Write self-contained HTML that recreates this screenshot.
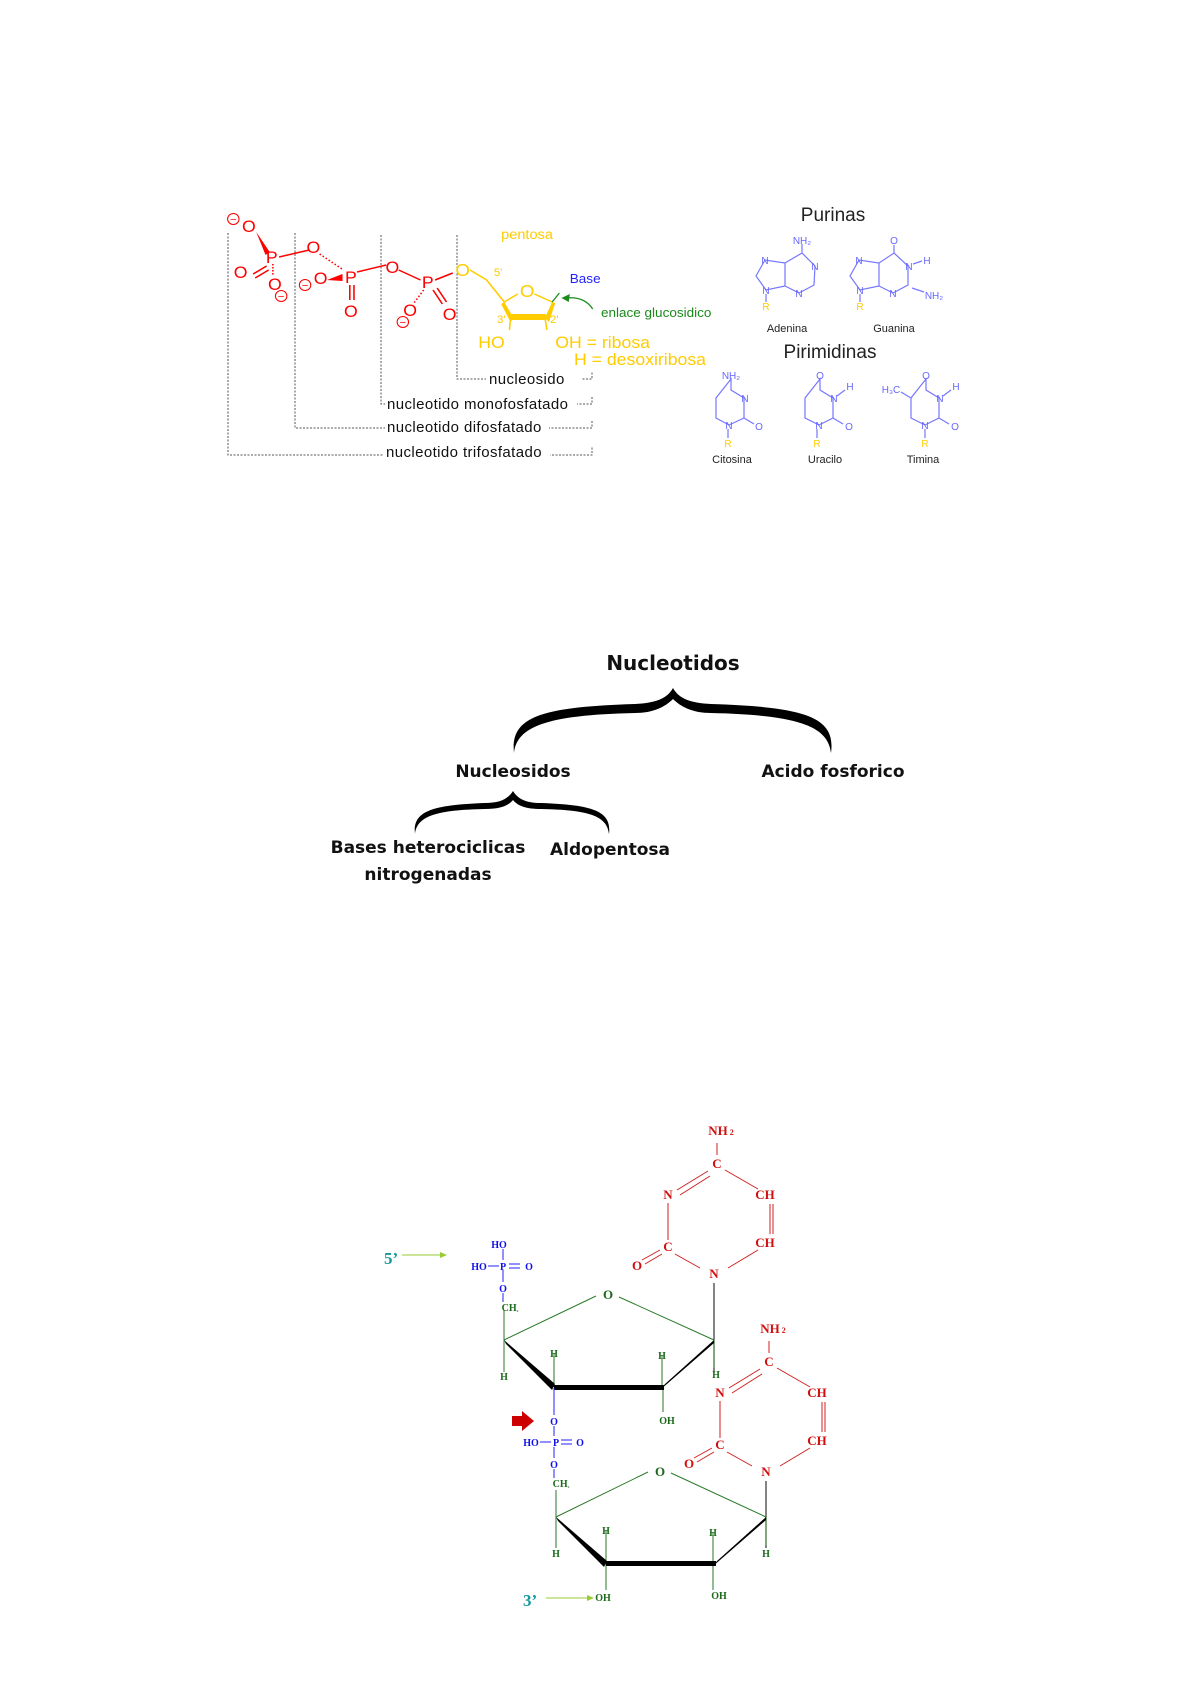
<!DOCTYPE html>
<html><head><meta charset="utf-8"><style>
html,body{margin:0;padding:0;background:#fff}
svg{display:block}
.s{font-family:"Liberation Sans",sans-serif}
.b{font-family:"DejaVu Sans","Liberation Sans",sans-serif;font-weight:bold}
.m{font-family:"Liberation Serif",serif;font-weight:bold}
</style></head><body>
<svg width="1191" height="1684" viewBox="0 0 1191 1684" xmlns="http://www.w3.org/2000/svg">
<!-- ===== TOP DIAGRAM ===== -->
<g transform="translate(-3,-3)">
<g fill="none" stroke="#555" stroke-width="1" stroke-dasharray="2,1.5">
<path d="M231 236 V458 H595 V449"/>
<path d="M298 236 V431 H595 V423"/>
<path d="M384 238 V407 H595 V399"/>
<path d="M460 238 V382 H595 V374"/>
</g>
<g class="s" font-size="15" fill="#111" text-anchor="start" letter-spacing="0.4">
<rect x="489" y="371" width="96" height="16" fill="#fff"/>
<text x="492" y="387">nucleosido</text>
<rect x="388" y="397" width="192" height="16" fill="#fff"/>
<text x="390" y="412">nucleotido monofosfatado</text>
<rect x="388" y="420" width="164" height="16" fill="#fff"/>
<text x="390" y="435">nucleotido difosfatado</text>
<rect x="387" y="446" width="166" height="16" fill="#fff"/>
<text x="389" y="460">nucleotido trifosfatado</text>
</g>
</g>
<g transform="matrix(1.04 0 0 1 -9 0)">
<g stroke="#f00" stroke-width="1.5" fill="none">
<path d="M277 257 L306 250"/><path d="M352 272 L380 265"/><path d="M392 270 L413 280"/><path d="M427 280 L444 273"/>
<path d="M252 274 L265 266 M254 278 L267 270"/>
<path d="M345 285 V300 M349 285 V300"/>
<path d="M425 290 L434 304 M429 288 L438 302"/>
<path d="M271 264 V275" stroke-dasharray="1.5,1.5"/>
<path d="M316 254 L339 270" stroke-dasharray="1.5,2"/>
<path d="M416 290 L406 304" stroke-dasharray="1.5,2"/>
</g>
<polygon points="255,232 268,252 264,255" fill="#f00"/>
<polygon points="323,280 338,274 338,281" fill="#f00"/>
<g class="s" font-size="17" fill="#f00" text-anchor="middle">
<text x="270" y="263">P</text><text x="248" y="232">O</text><text x="240" y="278">O</text><text x="273" y="290">O</text>
<text x="310" y="253">O</text><text x="346" y="283">P</text><text x="317" y="284">O</text><text x="346" y="317">O</text>
<text x="386" y="273">O</text><text x="420" y="288">P</text><text x="403" y="316">O</text><text x="441" y="320">O</text>
</g>
<g class="s" font-size="11" fill="#f00" text-anchor="middle">
<circle cx="233" cy="219" r="5.5" fill="#fff" stroke="#f00"/><text x="233" y="223">−</text>
<circle cx="279" cy="296" r="5.5" fill="#fff" stroke="#f00"/><text x="279" y="300">−</text>
<circle cx="302" cy="285" r="5.5" fill="#fff" stroke="#f00"/><text x="302" y="289">−</text>
<circle cx="396" cy="322" r="5.5" fill="#fff" stroke="#f00"/><text x="396" y="326">−</text>
</g>
</g>
<g transform="matrix(1.04 0 0 1 -23 0)">
<g stroke="#fc0" stroke-width="1.5" fill="none">
<path d="M474 270 L490 280 L507 302"/>
<path d="M507 302 L520 294 M536 294 L553 302"/>
<path d="M513 317 L512 330 M546 317 L548 330"/>
</g>
<polygon points="507,302 516,318 513,322 504,304" fill="#fc0"/>
<polygon points="553,302 546,318 550,322 556,303" fill="#fc0"/>
<rect x="514" y="314" width="33" height="6" fill="#fc0"/>
<path d="M553 302 L560 293" stroke="#1a8a1a" stroke-width="1.2"/>
<path d="M592 309 Q584 296 566 298" stroke="#1a8a1a" stroke-width="1.3" fill="none"/>
<polygon points="562,298 570,294 569,302" fill="#1a8a1a"/>
<g class="s" fill="#fc0">
<text x="467" y="276" font-size="18" text-anchor="middle">O</text>
<text x="529" y="297" font-size="18" text-anchor="middle">O</text>
<text x="497" y="276" font-size="11">5'</text>
<text x="500" y="323" font-size="11">3'</text>
<text x="551" y="323" font-size="11">2'</text>
<text x="482" y="348" font-size="17">HO</text>
<text x="556" y="348" font-size="17">OH = ribosa</text>
<text x="574" y="365" font-size="17">H = desoxiribosa</text>
<text x="504" y="239" font-size="14">pentosa</text>
</g>
<text x="570" y="283" class="s" font-size="13" fill="#22f">Base</text>
<text x="600" y="317" class="s" font-size="13" fill="#1a8a1a">enlace glucosidico</text>
</g>

<!-- bases -->
<g transform="translate(-5,-3)">
<g class="s" fill="#222" text-anchor="middle">
<text x="838" y="224" font-size="19">Purinas</text>
<text x="835" y="361" font-size="19">Pirimidinas</text>
<text x="792" y="335" font-size="11">Adenina</text>
<text x="899" y="335" font-size="11">Guanina</text>
<text x="737" y="466" font-size="11">Citosina</text>
<text x="830" y="466" font-size="11">Uracilo</text>
<text x="928" y="466" font-size="11">Timina</text>
</g>
<g transform="translate(4,1)">
<g stroke="#7777ff" stroke-width="1.2" fill="none">
<path d="M766 262 L757 278 L767 292 L786 288 L786 265 Z M786 265 L803 255 L816 268 L815 287 L800 295 L786 288 M803 255 V246 M767 296 V304"/>
<path d="M860 262 L851 278 L861 292 L880 288 L880 265 Z M880 265 L895 255 L909 268 L909 287 L894 295 L880 288 M895 255 V247 M914 266 L923 263 M913 290 L925 294 M861 296 V304"/>
<path d="M732 381 V392 L745 400 L745 420 L730 427 L717 420 L717 400 Z M745 420 L755 426 M729 431 V440"/>
<path d="M821 381 V392 L834 400 L834 420 L820 427 L806 420 L806 400 Z M834 420 L844 426 M838 398 L846 392 M818 431 V440"/>
<path d="M927 381 V392 L940 400 L940 420 L926 427 L912 420 L912 400 Z M940 420 L950 426 M944 398 L952 392 M912 400 L902 394 M926 431 V440"/>
</g>
<g class="s" font-size="10" fill="#6666ff" text-anchor="middle">
<text x="803" y="246">NH₂</text><text x="766" y="266">N</text><text x="767" y="296">N</text><text x="816" y="272">N</text><text x="800" y="299">N</text>
<text x="895" y="246">O</text><text x="860" y="266">N</text><text x="861" y="296">N</text><text x="910" y="272">N</text><text x="894" y="299">N</text><text x="928" y="266">H</text><text x="935" y="301">NH₂</text>
<text x="732" y="381">NH₂</text><text x="746" y="404">N</text><text x="730" y="431">N</text><text x="760" y="432">O</text>
<text x="821" y="381">O</text><text x="835" y="404">N</text><text x="820" y="431">N</text><text x="850" y="432">O</text><text x="851" y="392">H</text>
<text x="927" y="381">O</text><text x="941" y="404">N</text><text x="926" y="431">N</text><text x="956" y="432">O</text><text x="957" y="392">H</text><text x="892" y="395">H₃C</text>
</g>
<g class="s" font-size="10" fill="#fc0" text-anchor="middle">
<text x="767" y="312">R</text><text x="861" y="312">R</text><text x="729" y="449">R</text><text x="818" y="449">R</text><text x="926" y="449">R</text>
</g>
</g>
</g>

<!-- ===== MIDDLE BRACES ===== -->
<g transform="translate(-5,-5)">
<g class="b" fill="#111" text-anchor="middle">
<text x="678" y="675" font-size="20">Nucleotidos</text>
<text x="518" y="782" font-size="17">Nucleosidos</text>
<text x="838" y="782" font-size="17">Acido fosforico</text>
<text x="433" y="858" font-size="17">Bases heterociclicas</text>
<text x="433" y="885" font-size="17">nitrogenadas</text>
<text x="615" y="860" font-size="17">Aldopentosa</text>
</g>
<g fill="#000">
<path d="M519 758 C515 722 545 712 640 709 C660 708 672 704 678 693 C684 704 696 708 716 709 C811 712 841 722 836 758 C833 732 806 720 716 718 C698 718 686 712 678 704 C670 712 658 718 640 718 C550 720 522 732 519 758 Z"/>
<path d="M420 839 C417 815 440 810 490 808 C505 808 513 804 518 796 C523 804 531 808 546 808 C596 810 617 815 614 839 C612 820 592 815 546 814 C531 814 523 811 518 805 C513 811 505 814 490 814 C444 815 422 820 420 839 Z"/>
</g>
</g>

<!-- ===== BOTTOM STRUCTURE ===== -->
<g stroke="#d02020" stroke-width="1" fill="none">
<path d="M717 1143 V1155 M725 1170 L758 1189 M773 1204 V1234 M770 1204 V1234 M758 1250 L728 1268 M700 1268 L675 1254 M668 1240 V1203 M677 1190 L708 1171 M680 1195 L710 1176 M642 1260 L660 1250 M645 1264 L662 1254"/>
<path d="M769 1341 V1353 M777 1368 L810 1387 M825 1402 V1432 M822 1402 V1432 M810 1448 L780 1466 M752 1466 L727 1452 M720 1438 V1401 M729 1388 L760 1369 M732 1393 L762 1374 M694 1458 L712 1448 M697 1462 L714 1452"/>
</g>
<g class="m" font-size="13" fill="#d01010" text-anchor="middle">
<text x="721" y="1135">NH<tspan font-size="8"> 2</tspan></text><text x="717" y="1168">C</text><text x="668" y="1199">N</text><text x="765" y="1199">CH</text><text x="765" y="1247">CH</text><text x="668" y="1251">C</text><text x="637" y="1270">O</text><text x="714" y="1278">N</text>
<text x="773" y="1333">NH<tspan font-size="8"> 2</tspan></text><text x="769" y="1366">C</text><text x="720" y="1397">N</text><text x="817" y="1397">CH</text><text x="817" y="1445">CH</text><text x="720" y="1449">C</text><text x="689" y="1468">O</text><text x="766" y="1476">N</text>
</g>
<g stroke="#333" stroke-width="1.2"><path d="M714 1283 V1371 M766 1481 V1548"/></g>
<g stroke="#2a7a2a" stroke-width="1" fill="none">
<path d="M504 1340 L596 1296 M619 1297 L714 1340 M504 1310 V1372 M554 1353 V1387 M662 1355 V1387 M663 1387 V1412 M714 1340 V1368"/>
<path d="M556 1517 L648 1472 M671 1473 L766 1517 M556 1490 V1548 M606 1530 V1590 M713 1532 V1590 M766 1517 V1545"/>
</g>
<g fill="#000">
<polygon points="504,1340 555,1384 552,1390 506,1344"/>
<polygon points="714,1340 665,1384 660,1390 714,1343"/>
<rect x="554" y="1385" width="110" height="5"/>
<polygon points="556,1517 607,1561 604,1567 558,1521"/>
<polygon points="766,1517 717,1561 712,1567 766,1520"/>
<rect x="606" y="1561" width="110" height="5"/>
</g>
<g class="m" font-size="10" fill="#1a6a1a" text-anchor="middle">
<text x="608" y="1299" font-size="13">O</text><text x="660" y="1476" font-size="13">O</text>
<text x="510" y="1311">CH<tspan font-size="6">₂</tspan></text><text x="561" y="1487">CH<tspan font-size="6">₂</tspan></text>
<text x="554" y="1357">H</text><text x="662" y="1359">H</text><text x="504" y="1380">H</text><text x="716" y="1378">H</text><text x="667" y="1424">OH</text>
<text x="606" y="1534">H</text><text x="713" y="1536">H</text><text x="556" y="1557">H</text><text x="766" y="1557">H</text><text x="603" y="1601">OH</text><text x="719" y="1599">OH</text>
</g>
<g stroke="#2020ff" stroke-width="1" fill="none">
<path d="M503 1249 V1260 M488 1266 H499 M509 1264 H520 M509 1268 H520 M503 1270 V1282 M503 1293 V1302"/>
<path d="M554 1388 V1415 M554 1426 V1436 M540 1442 H551 M561 1440 H572 M561 1444 H572 M554 1447 V1458 M554 1469 V1478"/>
</g>
<g class="m" font-size="10" fill="#1010ee" text-anchor="middle">
<text x="499" y="1248">HO</text><text x="479" y="1270">HO</text><text x="503" y="1270">P</text><text x="529" y="1270">O</text><text x="503" y="1292">O</text>
<text x="554" y="1425">O</text><text x="531" y="1446">HO</text><text x="556" y="1446">P</text><text x="580" y="1446">O</text><text x="554" y="1468">O</text>
</g>
<polygon points="512,1416 522,1416 522,1411 534,1421 522,1431 522,1426 512,1426" fill="#c00"/>
<g class="m" font-size="17" fill="#17999a"><text x="384" y="1264">5’</text><text x="523" y="1606">3’</text></g>
<g stroke="#9c3" stroke-width="1"><path d="M402 1255 H446 M546 1598 H592"/></g>
<polygon points="447,1255 440,1252 440,1258" fill="#9c3"/>
<polygon points="594,1598 587,1595 587,1601" fill="#9c3"/>
</svg>
</body></html>
